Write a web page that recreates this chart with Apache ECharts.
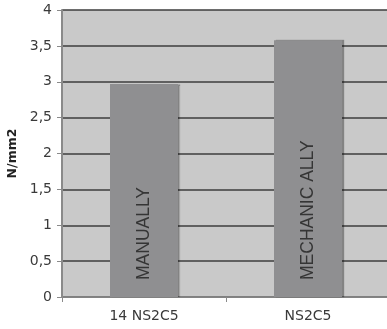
<!DOCTYPE html>
<html>
<head>
<meta charset="utf-8">
<script src="https://cdn.jsdelivr.net/npm/echarts@6/dist/echarts.min.js"></script>
<style>
  html, body { margin: 0; padding: 0; background: #ffffff; }
  #chart { width: 387px; height: 329px; }
</style>
</head>
<body>
<div id="chart"></div>
<script>
// Bond strength per specimen group
const categories = ['14 NS2C5', 'NS2C5'];
const strengthValues = [2.97, 3.58];
const barNotes = ['MANUALLY', 'MECHANIC ALLY'];
const yTicks = [0, 0.5, 1, 1.5, 2, 2.5, 3, 3.5, 4];
const yTitle = 'N/mm2';

const chart = echarts.init(document.getElementById('chart'), null, { renderer: 'canvas' });

chart.setOption({
  animation: false,
  backgroundColor: '#ffffff',
  grid: {
    left: 62, right: -3, top: 10, bottom: 32,
    outerBoundsMode: 'none',
    show: true, backgroundColor: '#c9c9c9', borderWidth: 0
  },
  xAxis: {
    type: 'category',
    data: categories,
    axisLine: { lineStyle: { color: '#8a8a8a', width: 1.5 } },
    axisTick: { show: true, alignWithLabel: false, length: 5, lineStyle: { color: '#8a8a8a' } },
    axisLabel: { color: '#3a3a3a', fontSize: 14, fontFamily: 'DejaVu Sans', margin: 12 }
  },
  yAxis: {
    type: 'value',
    min: yTicks[0],
    max: yTicks[yTicks.length - 1],
    interval: 0.5,
    name: yTitle,
    nameLocation: 'middle',
    nameGap: 43,
    nameRotate: 90,
    nameTextStyle: { color: '#222222', fontSize: 12.5, fontWeight: 'bold', fontFamily: 'DejaVu Sans' },
    axisLine: { show: true, lineStyle: { color: '#8a8a8a', width: 2 } },
    axisTick: { show: true, length: 5, lineStyle: { color: '#8a8a8a' } },
    axisLabel: {
      color: '#3a3a3a', fontSize: 14, fontFamily: 'DejaVu Sans', margin: 10,
      formatter: v => String(v).replace('.', ',')
    },
    splitLine: { show: true, lineStyle: { color: '#3c3c3c', width: 1.5 } }
  },
  series: [{
    type: 'bar',
    data: strengthValues,
    barWidth: 68,
    itemStyle: {
      color: '#8f8f91',
      shadowColor: 'rgba(0,0,0,0.35)',
      shadowBlur: 1,
      shadowOffsetX: 2,
      shadowOffsetY: 0
    },
    label: {
      show: true,
      position: 'insideBottom',
      rotate: 90,
      align: 'left',
      verticalAlign: 'middle',
      distance: 17,
      color: '#353535',
      fontSize: 17.5,
      fontFamily: 'Liberation Sans',
      formatter: p => barNotes[p.dataIndex]
    }
  }]
});
</script>
</body>
</html>
